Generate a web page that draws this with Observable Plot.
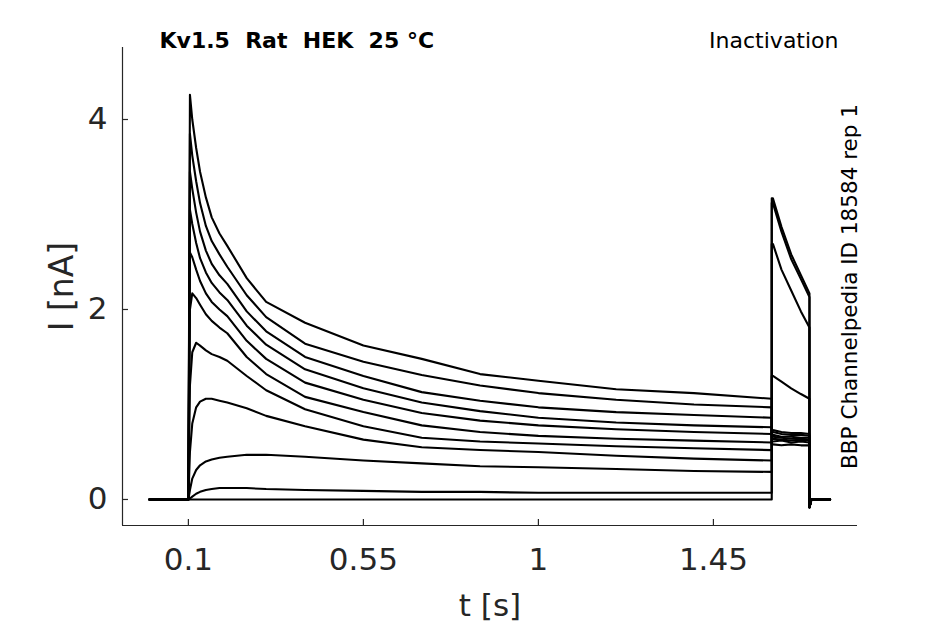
<!DOCTYPE html>
<html>
<head>
<meta charset="utf-8">
<script src="https://cdn.jsdelivr.net/npm/d3@7"></script>
<script src="https://cdn.jsdelivr.net/npm/@observablehq/plot@0.6"></script>
<style>
  html, body { margin: 0; padding: 0; background: #fff; }
  svg text { white-space: pre; }
</style>
</head>
<body>
<div id="chart"></div>
<script>
// ---- data ----
const titleText = "Kv1.5  Rat  HEK  25 °C";
const protocolText = "Inactivation";
const sideText = "BBP Channelpedia ID 18584 rep 1";
const xLabel = "t [s]";
const yLabel = "I [nA]";
const xTicks = [0.1, 0.55, 1, 1.45];
const yTicks = [0, 2, 4];
const xDomain = [-0.0694, 1.8205];
const yDomain = [-0.274, 4.758];

// times (s) of the conditioning step
const tStep = [0, 0.1, 0.104, 0.11, 0.12, 0.13, 0.145, 0.16, 0.18, 0.2, 0.25, 0.3, 0.4, 0.55, 0.7, 0.85, 1.0, 1.2, 1.4, 1.6];
// current (nA) of each sweep during the conditioning step
const stepCurrents = [
  [0, 0, 4.26, 4.0, 3.7, 3.45, 3.18, 2.97, 2.8, 2.67, 2.33, 2.08, 1.86, 1.62, 1.48, 1.32, 1.25, 1.16, 1.12, 1.06],
  [0, 0, 3.85, 3.62, 3.35, 3.12, 2.88, 2.72, 2.58, 2.45, 2.15, 1.92, 1.64, 1.45, 1.31, 1.2, 1.12, 1.05, 1.0, 0.97],
  [0, 0, 3.45, 3.27, 3.02, 2.82, 2.62, 2.48, 2.36, 2.27, 1.98, 1.77, 1.5, 1.3, 1.13, 1.04, 0.97, 0.92, 0.89, 0.86],
  [0, 0, 3.05, 2.9, 2.7, 2.54, 2.39, 2.28, 2.18, 2.1, 1.83, 1.63, 1.37, 1.17, 1.02, 0.93, 0.86, 0.81, 0.78, 0.76],
  [0, 0, 2.6, 2.55, 2.42, 2.3, 2.17, 2.08, 2.0, 1.93, 1.67, 1.48, 1.23, 1.05, 0.91, 0.83, 0.78, 0.74, 0.71, 0.69],
  [0, 0, 2.0, 2.17, 2.12, 2.05, 1.95, 1.88, 1.81, 1.75, 1.5, 1.32, 1.08, 0.92, 0.78, 0.71, 0.67, 0.64, 0.62, 0.60],
  [0, 0, 1.2, 1.55, 1.65, 1.62, 1.57, 1.53, 1.5, 1.46, 1.3, 1.15, 0.95, 0.77, 0.65, 0.61, 0.59, 0.56, 0.54, 0.52],
  [0, 0, 0.5, 0.8, 0.97, 1.03, 1.06, 1.06, 1.04, 1.02, 0.96, 0.88, 0.77, 0.63, 0.55, 0.52, 0.50, 0.46, 0.43, 0.41],
  [0, 0, 0.1, 0.22, 0.31, 0.36, 0.4, 0.42, 0.44, 0.45, 0.47, 0.47, 0.45, 0.41, 0.38, 0.35, 0.34, 0.32, 0.30, 0.29],
  [0, 0, 0.01, 0.03, 0.06, 0.08, 0.1, 0.11, 0.12, 0.12, 0.12, 0.11, 0.1, 0.09, 0.08, 0.08, 0.07, 0.07, 0.07, 0.07],
  [0, 0, 0, 0, 0, 0, 0, 0, 0, 0, 0, 0, 0, 0, 0, 0, 0, 0, 0, 0]
];
// times (s) of the test pulse and the tail
const tTest = [1.6, 1.603, 1.625, 1.65, 1.675, 1.697, 1.697, 1.702, 1.75];
const testCurrents = [
  [0.66, 0.66, 0.65, 0.64, 0.64, 0.63, -0.08, 0, 0],
  [0.60, 0.61, 0.62, 0.60, 0.61, 0.60, -0.08, 0, 0],
  [0.70, 0.71, 0.69, 0.68, 0.68, 0.67, -0.08, 0, 0],
  [0.63, 0.64, 0.63, 0.62, 0.63, 0.62, -0.08, 0, 0],
  [0.68, 0.68, 0.66, 0.66, 0.65, 0.65, -0.08, 0, 0],
  [0.58, 0.58, 0.57, 0.58, 0.57, 0.57, -0.08, 0, 0],
  [0.74, 0.73, 0.71, 0.70, 0.70, 0.69, -0.08, 0, 0],
  [1.30, 1.30, 1.24, 1.17, 1.11, 1.06, -0.08, 0, 0],
  [2.69, 2.69, 2.42, 2.20, 1.98, 1.81, -0.08, 0, 0],
  [3.12, 3.12, 2.82, 2.53, 2.32, 2.13, -0.08, 0, 0],
  [3.17, 3.17, 2.87, 2.58, 2.36, 2.17, -0.09, 0, 0]
];

// ---- build long table ----
const rows = [];
stepCurrents.forEach((vals, k) => {
  tStep.forEach((t, i) => rows.push({sweep: k, t, I: vals[i]}));
  tTest.forEach((t, i) => rows.push({sweep: k, t, I: testCurrents[k][i]}));
});

const W = 945, H = 624;
const mL = 122, mR = 88, mT = 47, mB = 99;
const pxPerX = (W - mL - mR) / (xDomain[1] - xDomain[0]);
const pxPerY = (H - mT - mB) / (yDomain[1] - yDomain[0]);
const tickLen = 6;
const axisColor = "#262626";

const chart = Plot.plot({
  width: W, height: H,
  marginLeft: mL, marginRight: mR, marginTop: mT, marginBottom: mB,
  style: {fontFamily: "DejaVu Sans", background: "#fff", color: axisColor},
  x: {domain: xDomain, axis: null},
  y: {domain: yDomain, axis: null},
  marks: [
    Plot.line(rows, {x: "t", y: "I", z: "sweep", stroke: "#000", strokeWidth: 2.1, strokeLinejoin: "round"}),
    // axis lines
    Plot.ruleX([xDomain[0]], {stroke: axisColor, strokeWidth: 1.2}),
    Plot.ruleY([yDomain[0]], {stroke: axisColor, strokeWidth: 1.2}),
    // inward ticks
    Plot.ruleX(xTicks, {x: d => d, y1: yDomain[0], y2: yDomain[0] + tickLen / pxPerY, stroke: axisColor, strokeWidth: 1.2}),
    Plot.ruleY(yTicks, {y: d => d, x1: xDomain[0], x2: xDomain[0] + tickLen / pxPerX, stroke: axisColor, strokeWidth: 1.2}),
    // tick labels
    Plot.text(xTicks, {x: d => d, y: yDomain[0], text: d => String(d), dy: 35, fontSize: 31,
      textAnchor: "middle", fill: axisColor, lineAnchor: "middle"}),
    Plot.text(yTicks, {x: xDomain[0], y: d => d, text: d => String(d), dx: -15, fontSize: 31,
      textAnchor: "end", fill: axisColor, lineAnchor: "middle"}),
    // axis labels
    Plot.text([xLabel], {frameAnchor: "bottom", dy: 81, fontSize: 31, textAnchor: "middle",
      fill: axisColor, lineAnchor: "middle"}),
    Plot.text([yLabel], {frameAnchor: "left", dx: -60, rotate: -90, fontSize: 33, textAnchor: "middle",
      fill: axisColor, lineAnchor: "middle"}),
    // titles
    Plot.text([titleText], {frameAnchor: "top-left", dx: 37, dy: 0, textAnchor: "start", lineAnchor: "bottom",
      fontWeight: "bold", fontSize: 22, fill: "#000"}),
    Plot.text([protocolText], {frameAnchor: "top-right", dx: -19, dy: 0, textAnchor: "end", lineAnchor: "bottom",
      fontSize: 22, fill: "#000"}),
    Plot.text([sideText], {frameAnchor: "right", dx: -7, rotate: -90, fontSize: 21.5, textAnchor: "middle",
      fill: "#000", lineAnchor: "middle"})
  ]
});
document.getElementById("chart").appendChild(chart);
</script>
</body>
</html>
